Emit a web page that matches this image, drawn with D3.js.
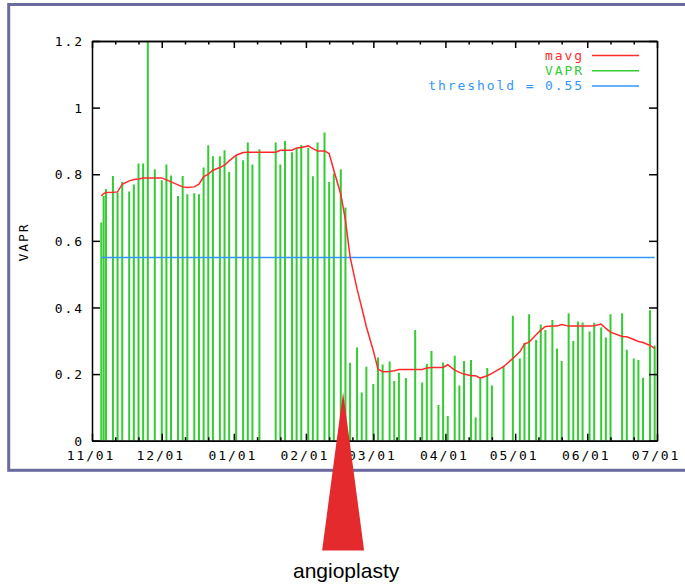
<!DOCTYPE html>
<html>
<head>
<meta charset="utf-8">
<script src="https://cdn.jsdelivr.net/npm/d3@7"></script>
<style>
  body { margin: 0; background: #fff; }
  .mono { font-family: "DejaVu Sans Mono", monospace; font-size: 13px; letter-spacing: 1.9px; }
</style>
</head>
<body>
<div id="chart"></div>
<script>
// readings per measurement date (Nov 2007 - Jun 2008)
const dates = [
  "2007-11-05","2007-11-06","2007-11-07","2007-11-10","2007-11-12","2007-11-14","2007-11-17","2007-11-19",
  "2007-11-21","2007-11-23","2007-11-25","2007-11-28","2007-12-01","2007-12-03","2007-12-05","2007-12-08",
  "2007-12-10","2007-12-12","2007-12-15","2007-12-17","2007-12-19","2007-12-21","2007-12-23","2007-12-26",
  "2007-12-28","2007-12-30","2008-01-02","2008-01-05","2008-01-07","2008-01-09","2008-01-12","2008-01-19",
  "2008-01-21","2008-01-23","2008-01-26","2008-01-28","2008-01-30","2008-02-02","2008-02-04","2008-02-06",
  "2008-02-09","2008-02-11","2008-02-13","2008-02-16","2008-02-18","2008-02-20","2008-02-23","2008-02-25",
  "2008-02-27","2008-03-01","2008-03-03","2008-03-05","2008-03-08","2008-03-10","2008-03-12","2008-03-15",
  "2008-03-19","2008-03-22","2008-03-24","2008-03-26","2008-03-29","2008-03-31","2008-04-02","2008-04-05",
  "2008-04-07","2008-04-09","2008-04-12","2008-04-14","2008-04-16","2008-04-19","2008-04-21","2008-04-26",
  "2008-04-30","2008-05-03","2008-05-05","2008-05-07","2008-05-10","2008-05-12","2008-05-14","2008-05-17",
  "2008-05-19","2008-05-21","2008-05-24","2008-05-26","2008-05-28","2008-05-30","2008-06-02","2008-06-04",
  "2008-06-07","2008-06-09","2008-06-11","2008-06-16","2008-06-18","2008-06-21","2008-06-23","2008-06-25",
  "2008-06-28","2008-06-30"
];
const vapr = [
  0.655,0.735,0.756,0.795,0.745,0.777,0.748,0.769,
  0.832,0.832,1.2,0.815,0.782,0.829,0.796,0.735,
  0.795,0.740,0.743,0.740,0.820,0.887,0.854,0.854,
  0.872,0.807,0.854,0.842,0.895,0.829,0.875,0.895,
  0.829,0.900,0.866,0.879,0.888,0.879,0.794,0.895,
  0.925,0.777,0.802,0.815,0.700,0.234,0.280,0.145,
  0.222,0.170,0.250,0.229,0.238,0.179,0.204,0.188,
  0.332,0.175,0.230,0.269,0.107,0.235,0.074,0.255,
  0.166,0.239,0.242,0.070,0.187,0.218,0.166,0.225,
  0.375,0.247,0.294,0.380,0.302,0.349,0.332,0.362,
  0.277,0.239,0.383,0.299,0.358,0.355,0.328,0.354,
  0.340,0.310,0.380,0.383,0.273,0.247,0.242,0.189,
  0.392,0.286
];
const mavg = [
  0.735,0.742,0.745,0.746,0.747,0.770,0.780,0.784,
  0.786,0.789,0.789,0.789,0.789,0.783,0.777,0.768,
  0.762,0.760,0.762,0.770,0.792,0.800,0.812,0.820,
  0.827,0.840,0.857,0.865,0.866,0.866,0.866,0.866,
  0.872,0.872,0.872,0.879,0.880,0.885,0.877,0.870,
  0.870,0.862,0.812,0.740,0.662,0.552,0.455,0.400,
  0.342,0.270,0.215,0.207,0.208,0.210,0.214,0.214,
  0.214,0.214,0.218,0.220,0.220,0.220,0.228,0.212,
  0.205,0.200,0.195,0.195,0.188,0.195,0.202,0.222,
  0.247,0.267,0.290,0.296,0.318,0.332,0.343,0.344,
  0.344,0.349,0.344,0.344,0.344,0.344,0.344,0.345,
  0.350,0.337,0.326,0.313,0.312,0.304,0.298,0.295,
  0.286,0.277
];
const threshold = 0.55;
const yTicks = [0, 0.2, 0.4, 0.6, 0.8, 1, 1.2];
const monthTicks = ["2007-11-01","2007-12-01","2008-01-01","2008-02-01","2008-03-01",
                    "2008-04-01","2008-05-01","2008-06-01","2008-07-01"];
const monthLabels = ["11/01","12/01","01/01","02/01","03/01","04/01","05/01","06/01","07/01"];
const legendNames = ["mavg", "VAPR", "threshold = 0.55"];
const angioplastyDate = "2008-02-17";

const W = 685, H = 586;
const plot = { left: 92, right: 657, top: 41, bottom: 440.7 };
const colors = { mavg: "#ff2a2a", vapr: "#33cc33", thr: "#3396ff" };

const parse = d3.timeParse("%Y-%m-%d");
const data = dates.map((d, i) => ({ date: parse(d), v: vapr[i], m: mavg[i] }));

const x = d3.scaleTime()
  .domain([parse(monthTicks[0]), parse(monthTicks[monthTicks.length - 1])])
  .range([plot.left, plot.right]);
const y = d3.scaleLinear().domain([0, 1.2]).range([plot.bottom, plot.top]);

const svg = d3.select("#chart").append("svg")
  .attr("width", W).attr("height", H);

// outer frame
svg.append("rect")
  .attr("x", 8.7).attr("y", 4.5)
  .attr("width", 700).attr("height", 465.8)
  .attr("fill", "none").attr("stroke", "#6a6a9e").attr("stroke-width", 3);

svg.append("clipPath").attr("id", "clip")
  .append("rect")
  .attr("x", plot.left).attr("y", plot.top)
  .attr("width", plot.right - plot.left).attr("height", plot.bottom - plot.top);

// minor x ticks: 11th and 21st of each month
const minorTicks = [];
monthTicks.slice(0, -1).forEach(m => {
  const d = parse(m);
  minorTicks.push(new Date(d.getFullYear(), d.getMonth(), 11));
  minorTicks.push(new Date(d.getFullYear(), d.getMonth(), 21));
});

const g = svg.append("g");

// bars
g.append("g").attr("clip-path", "url(#clip)")
  .selectAll("line").data(data).enter().append("line")
  .attr("x1", d => x(d.date)).attr("x2", d => x(d.date))
  .attr("y1", y(0)).attr("y2", d => y(d.v))
  .attr("stroke", colors.vapr).attr("stroke-width", 2);

// threshold line
g.append("line")
  .attr("x1", x(data[0].date)).attr("x2", x(data[data.length - 1].date))
  .attr("y1", y(threshold)).attr("y2", y(threshold))
  .attr("stroke", colors.thr).attr("stroke-width", 1.5);

// moving average
g.append("path").datum(data)
  .attr("fill", "none").attr("stroke", colors.mavg).attr("stroke-width", 1.5)
  .attr("d", d3.line().x(d => x(d.date)).y(d => y(d.m)));

// axes
function styleAxis(sel) {
  sel.selectAll("path").attr("stroke", "#000").attr("stroke-width", 1.5);
  sel.selectAll("line").attr("stroke", "#000").attr("stroke-width", 1.5);
  sel.selectAll("text").attr("class", "mono").attr("fill", "#000");
}

const yl = svg.append("g").attr("transform", `translate(${plot.left},0)`)
  .call(d3.axisLeft(y).tickValues(yTicks).tickFormat(d => String(d))
    .tickSizeInner(-8).tickSizeOuter(0).tickPadding(8))
  .call(styleAxis);
yl.selectAll("text").attr("dy", "0.35em");

svg.append("g").attr("transform", `translate(${plot.right},0)`)
  .call(d3.axisRight(y).tickValues(yTicks).tickFormat("")
    .tickSizeInner(-8).tickSizeOuter(0))
  .call(styleAxis);

const monthDates = monthTicks.map(parse);
svg.append("g").attr("transform", `translate(0,${plot.bottom})`)
  .call(d3.axisBottom(x).tickValues(monthDates).tickFormat((d, i) => monthLabels[i])
    .tickSizeInner(-7).tickSizeOuter(0).tickPadding(10.5))
  .call(styleAxis)
  .selectAll("text").attr("dx", "-1.5px");

svg.append("g").attr("transform", `translate(0,${plot.bottom})`)
  .call(d3.axisBottom(x).tickValues(minorTicks).tickFormat("")
    .tickSizeInner(-3.5).tickSizeOuter(0))
  .call(styleAxis);

svg.append("g").attr("transform", `translate(0,${plot.top})`)
  .call(d3.axisTop(x).tickValues(monthDates).tickFormat("")
    .tickSizeInner(-7).tickSizeOuter(0))
  .call(styleAxis);

svg.append("g").attr("transform", `translate(0,${plot.top})`)
  .call(d3.axisTop(x).tickValues(minorTicks).tickFormat("")
    .tickSizeInner(-3.5).tickSizeOuter(0))
  .call(styleAxis);

// y label
svg.append("text").attr("class", "mono")
  .attr("transform", "translate(28,242) rotate(-90)")
  .attr("text-anchor", "middle")
  .text("VAPR");

// legend
const legendColors = [colors.mavg, colors.vapr, colors.thr];
const lg = svg.append("g");
legendNames.forEach((name, i) => {
  const ly = 55.5 + i * 15.2;
  lg.append("text").attr("class", "mono")
    .attr("x", 584).attr("y", ly).attr("dy", "0.35em")
    .attr("text-anchor", "end").attr("fill", legendColors[i])
    .text(name);
  lg.append("line")
    .attr("x1", 592).attr("x2", 639).attr("y1", ly).attr("y2", ly)
    .attr("stroke", legendColors[i]).attr("stroke-width", 1.5);
});

// angioplasty marker
const ax = x(parse(angioplastyDate));
const apexY = y(0.146);
svg.append("path")
  .attr("d", d3.line()([[ax, apexY], [ax + 21, 550.5], [ax - 21, 550.5]]) + "Z")
  .attr("fill", "#e52a2d");
svg.append("text")
  .attr("x", ax + 3).attr("y", 578)
  .attr("text-anchor", "middle")
  .attr("font-family", "'Liberation Sans', Arial, sans-serif")
  .attr("font-size", 21)
  .text("angioplasty");
</script>
</body>
</html>
